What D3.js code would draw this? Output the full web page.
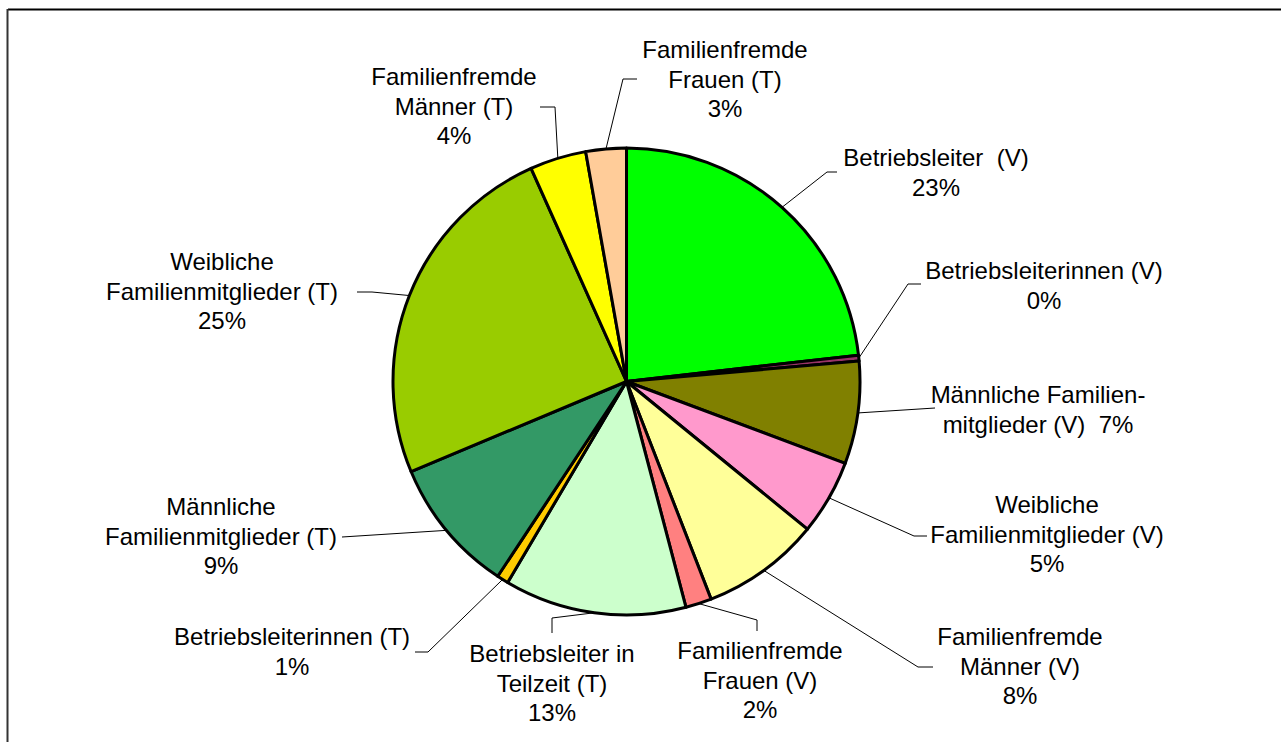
<!DOCTYPE html>
<html lang="de">
<head>
<meta charset="UTF-8">
<title>Arbeitskräfte</title>
<script src="https://d3js.org/d3.v7.min.js"></script>
<style>
  body, html { margin: 0; padding: 0; background: #fff; }
  svg { display: block; }
  .lbl { font-family: "Liberation Sans", Arial, sans-serif; font-size: 24px; fill: #000; }
  .leader { fill: none; stroke: #000; stroke-width: 1px; }
</style>
</head>
<body>
<div id="chart"></div>
<script>
// categories, clockwise from 12 o'clock
const categories = [
  "Betriebsleiter  (V)",
  "Betriebsleiterinnen (V)",
  "Männliche Familienmitglieder (V)",
  "Weibliche Familienmitglieder (V)",
  "Familienfremde Männer (V)",
  "Familienfremde Frauen (V)",
  "Betriebsleiter in Teilzeit (T)",
  "Betriebsleiterinnen (T)",
  "Männliche Familienmitglieder (T)",
  "Weibliche Familienmitglieder (T)",
  "Familienfremde Männer (T)",
  "Familienfremde Frauen (T)"
];
// shares in percent
const values = [23.2, 0.4, 7.1, 5.2, 8.2, 1.8, 12.6, 0.8, 9.4, 24.6, 3.9, 2.8];
// how the labels are broken into lines (percentage is appended by the code)
const labelLines = [
  ["Betriebsleiter  (V)"],
  ["Betriebsleiterinnen (V)"],
  ["Männliche Familien-", "mitglieder (V)  "],
  ["Weibliche", "Familienmitglieder (V)"],
  ["Familienfremde", "Männer (V)"],
  ["Familienfremde", "Frauen (V)"],
  ["Betriebsleiter in", "Teilzeit (T)"],
  ["Betriebsleiterinnen (T)"],
  ["Männliche", "Familienmitglieder (T)"],
  ["Weibliche", "Familienmitglieder (T)"],
  ["Familienfremde", "Männer (T)"],
  ["Familienfremde", "Frauen (T)"]
];
const colors = ["#00FF00", "#993366", "#808000", "#FF99CC", "#FFFF99", "#FF8080",
                "#CCFFCC", "#FFCC00", "#339966", "#99CC00", "#FFFF00", "#FFCC99"];

// label layout: text centre x, first line centre y, leader elbow + end
const labelPos = [
  {x: 936, y: 158, pts: [[827, 172], [837, 172]]},
  {x: 1044, y: 271, pts: [[908, 284], [921, 284]]},
  {x: 1038, y: 395, pts: [[935, 408]]},
  {x: 1047, y: 505, pts: [[914, 536], [927, 536]]},
  {x: 1020, y: 637, pts: [[918, 667], [933, 667]]},
  {x: 760, y: 651, pts: [[757, 620], [757, 631]]},
  {x: 552, y: 654, pts: [[552, 618], [552, 633]]},
  {x: 292, y: 637, pts: [[428, 652], [415, 652]]},
  {x: 221, y: 507, pts: [[342, 537]]},
  {x: 222, y: 262, pts: [[372, 292], [357, 292]]},
  {x: 454, y: 77, pts: [[555, 107], [540, 107]]},
  {x: 725, y: 50, pts: [[623, 79], [637, 79]]}
];

const width = 1281, height = 742;
const cx = 626.5, cy = 381.5, radius = 233.5;

const svg = d3.select("#chart").append("svg")
  .attr("width", width)
  .attr("height", height);

// frame (only top and left edges are inside the picture)
svg.append("line").attr("x1", 8).attr("y1", 9.5).attr("x2", width).attr("y2", 9.5)
  .attr("stroke", "#000").attr("stroke-width", 2);
svg.append("line").attr("x1", 7.5).attr("y1", 9).attr("x2", 7.5).attr("y2", height)
  .attr("stroke", "#333").attr("stroke-width", 2);

const total = d3.sum(values);
const pie = d3.pie().sort(null).value(d => d);
const arcs = pie(values);
const arc = d3.arc().innerRadius(0).outerRadius(radius);

const g = svg.append("g").attr("transform", `translate(${cx},${cy})`);

g.selectAll("path.slice")
  .data(arcs)
  .enter().append("path")
  .attr("class", "slice")
  .attr("d", arc)
  .attr("fill", (d, i) => colors[i])
  .attr("stroke", "#000")
  .attr("stroke-width", 3)
  .attr("stroke-linejoin", "round");

// leader lines: start on the rim at the slice middle
arcs.forEach((d, i) => {
  const mid = (d.startAngle + d.endAngle) / 2;
  const start = [cx + radius * Math.sin(mid), cy - radius * Math.cos(mid)];
  const pts = [start].concat(labelPos[i].pts);
  svg.append("path")
    .attr("class", "leader")
    .attr("d", d3.line()(pts));
});

// labels
const lineH = 29.5;
arcs.forEach((d, i) => {
  const pct = Math.round(values[i] / total * 100) + "%";
  const lines = labelLines[i].slice();
  if (i === 2) lines[lines.length - 1] += pct; else lines.push(pct);
  const t = svg.append("text")
    .attr("class", "lbl")
    .attr("text-anchor", "middle");
  lines.forEach((s, k) => {
    t.append("tspan")
      .attr("x", labelPos[i].x)
      .attr("y", labelPos[i].y + k * lineH + 8)
      .attr("xml:space", "preserve")
      .style("white-space", "pre")
      .text(s);
  });
});
</script>
</body>
</html>
